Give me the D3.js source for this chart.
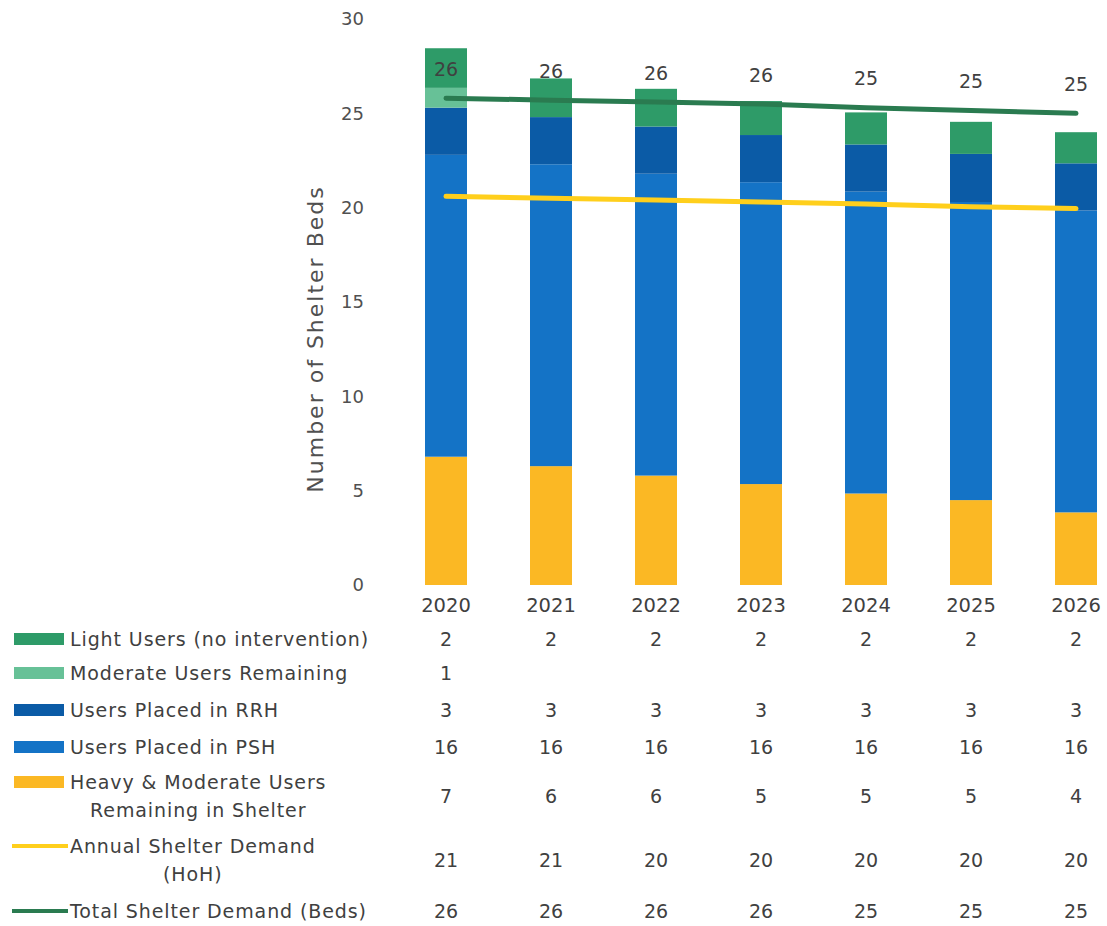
<!DOCTYPE html>
<html>
<head>
<meta charset="utf-8">
<script src="https://cdn.jsdelivr.net/npm/d3@7"></script>
<style>
  body { margin: 0; background: #ffffff; }
  svg { font-family: "DejaVu Sans", "Noto Sans", sans-serif; }
</style>
</head>
<body>
<svg id="chart" width="1107" height="926"></svg>
<script>
// ---- data ----
const years = ["2020", "2021", "2022", "2023", "2024", "2025", "2026"];
const lightUsers        = [2.1, 2.05, 2.0, 1.8, 1.7, 1.7, 1.65];
const moderateRemaining = [1.05, null, null, null, null, null, null];
const rrhUsers          = [2.5, 2.5, 2.5, 2.5, 2.5, 2.55, 2.5];
const pshUsers          = [16, 16, 16, 16, 16, 15.8, 16];
const heavyRemaining    = [6.8, 6.3, 5.8, 5.35, 4.85, 4.5, 3.85];
const annualDemand      = [20.6, 20.5, 20.4, 20.3, 20.2, 20.05, 19.95];
const totalDemand       = [25.8, 25.7, 25.6, 25.5, 25.3, 25.15, 25.0];
const yTicks = [0, 5, 10, 15, 20, 25, 30];

// series definitions (stack order bottom -> top)
const barSeries = [
  { key: "heavy",    values: heavyRemaining,    color: "#FBB824" },
  { key: "psh",      values: pshUsers,          color: "#1473C6" },
  { key: "rrh",      values: rrhUsers,          color: "#0B5BA6" },
  { key: "moderate", values: moderateRemaining, color: "#67C197" },
  { key: "light",    values: lightUsers,        color: "#2E9B68" }
];
const annualColor = "#FFCF1C";
const totalColor = "#2A7B50";
const textColor = "#404040";

// table rows (top -> bottom)
const tableRows = [
  { lines: ["Light Users (no intervention)"], values: lightUsers, swatch: "rect", color: "#2E9B68" },
  { lines: ["Moderate Users Remaining"], values: moderateRemaining, swatch: "rect", color: "#67C197" },
  { lines: ["Users Placed in RRH"], values: rrhUsers, swatch: "rect", color: "#0B5BA6" },
  { lines: ["Users Placed in PSH"], values: pshUsers, swatch: "rect", color: "#1473C6" },
  { lines: ["Heavy & Moderate Users", "Remaining in Shelter"], values: heavyRemaining, swatch: "rect", color: "#FBB824" },
  { lines: ["Annual Shelter Demand", "(HoH)"], values: annualDemand, swatch: "line", color: annualColor },
  { lines: ["Total Shelter Demand (Beds)"], values: totalDemand, swatch: "line", color: totalColor }
];
const rowY = [639, 673, 710, 747, 796, 860, 911];

// ---- scales ----
const svg = d3.select("#chart");
const x = d3.scalePoint().domain(years).range([446, 1076]);
const y = d3.scaleLinear().domain([0, 30]).range([585, 19]);
const barWidth = 42;

// ---- stacked bars ----
const stackRows = years.map((yr, i) => {
  const r = { year: yr };
  barSeries.forEach(s => { r[s.key] = s.values[i] || 0; });
  return r;
});
const stacked = d3.stack().keys(barSeries.map(s => s.key))(stackRows);

svg.append("g").selectAll("g")
  .data(stacked)
  .join("g")
  .attr("fill", (d, i) => barSeries[i].color)
  .selectAll("rect")
  .data(d => d)
  .join("rect")
  .attr("x", d => x(d.data.year) - barWidth / 2)
  .attr("width", barWidth)
  .attr("y", d => y(d[1]))
  .attr("height", d => Math.max(0, y(d[0]) - y(d[1])));

// ---- demand lines ----
const line = d3.line().x((d, i) => x(years[i])).y(d => y(d));
svg.append("path").datum(annualDemand)
  .attr("d", line).attr("fill", "none")
  .attr("stroke", annualColor).attr("stroke-width", 5).attr("stroke-linecap", "round");
svg.append("path").datum(totalDemand)
  .attr("d", line).attr("fill", "none")
  .attr("stroke", totalColor).attr("stroke-width", 5).attr("stroke-linecap", "round");

// labels above total demand line
svg.append("g").selectAll("text")
  .data(totalDemand)
  .join("text")
  .attr("x", (d, i) => x(years[i]))
  .attr("y", d => y(d) - 29)
  .attr("dy", "0.35em")
  .attr("text-anchor", "middle")
  .attr("font-size", 19)
  .attr("fill", textColor)
  .text(d => Math.round(d));

// ---- y axis ----
const yAxis = svg.append("g")
  .attr("transform", "translate(372,0)")
  .call(d3.axisLeft(y).tickValues(yTicks).tickSize(0).tickPadding(8));
yAxis.select(".domain").remove();
yAxis.selectAll("text")
  .attr("font-size", 18)
  .attr("font-family", "DejaVu Sans, sans-serif")
  .attr("fill", "#505050");

svg.append("text")
  .attr("transform", "translate(315,339) rotate(-90)")
  .attr("text-anchor", "middle")
  .attr("dy", "0.35em")
  .attr("font-size", 22)
  .attr("letter-spacing", 2)
  .attr("fill", "#505050")
  .text("Number of Shelter Beds");

// ---- year labels ----
svg.append("g").selectAll("text")
  .data(years)
  .join("text")
  .attr("x", d => x(d))
  .attr("y", 605)
  .attr("dy", "0.35em")
  .attr("text-anchor", "middle")
  .attr("font-size", 19.5)
  .attr("fill", textColor)
  .text(d => d);

// ---- data table with legend keys ----
const rows = svg.append("g").selectAll("g")
  .data(tableRows)
  .join("g")
  .attr("transform", (d, i) => `translate(0,${rowY[i]})`);

// key sits beside the first text line of each row
const keyY = d => d.lines.length > 1 ? -14 : 0;

rows.filter(d => d.swatch === "rect").append("rect")
  .attr("x", 14).attr("y", d => keyY(d) - 6).attr("width", 50).attr("height", 12)
  .attr("fill", d => d.color);

rows.filter(d => d.swatch === "line").append("line")
  .attr("x1", 12).attr("x2", 68)
  .attr("y1", keyY).attr("y2", keyY)
  .attr("stroke", d => d.color).attr("stroke-width", 4);

rows.each(function (d) {
  const g = d3.select(this);
  const multi = d.lines.length > 1;
  // first line starts right after the key; a second line is centred under it
  const first = g.append("text")
    .attr("x", 70)
    .attr("y", multi ? -14 : 0)
    .attr("dy", "0.35em")
    .attr("font-size", 19)
    .attr("letter-spacing", 0.9)
    .attr("fill", textColor)
    .text(d.lines[0]);
  if (multi) {
    const w = first.node().getComputedTextLength();
    g.append("text")
      .attr("x", 70 + w / 2)
      .attr("y", 14)
      .attr("dy", "0.35em")
      .attr("text-anchor", "middle")
      .attr("font-size", 19)
      .attr("letter-spacing", 0.9)
      .attr("fill", textColor)
      .text(d.lines[1]);
  }
  g.selectAll("text.val")
    .data(d.values)
    .join("text")
    .attr("class", "val")
    .attr("x", (v, i) => x(years[i]))
    .attr("y", 0)
    .attr("dy", "0.35em")
    .attr("text-anchor", "middle")
    .attr("font-size", 19)
    .attr("fill", textColor)
    .text(v => v == null ? "" : Math.round(v));
});
</script>
</body>
</html>
